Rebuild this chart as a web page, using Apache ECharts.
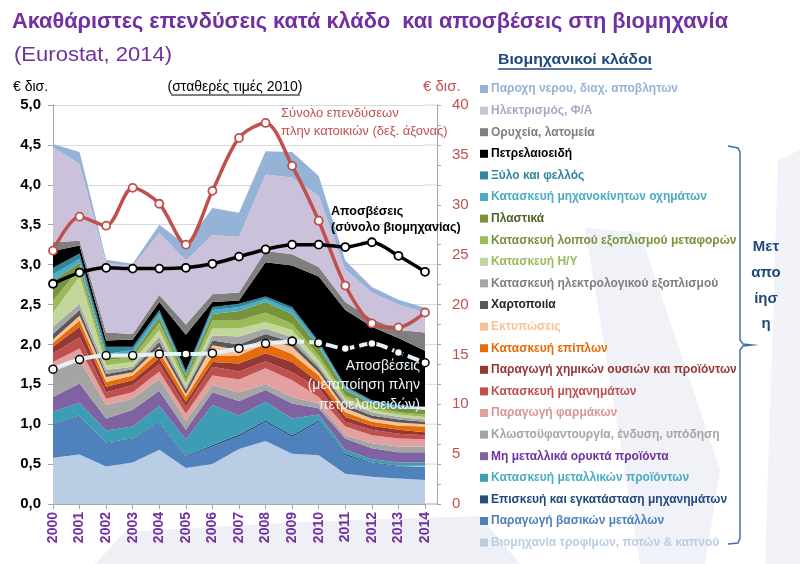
<!DOCTYPE html>
<html><head><meta charset="utf-8">
<script src="https://cdn.jsdelivr.net/npm/echarts@6/dist/echarts.min.js"></script>
<style>html,body{margin:0;padding:0;background:#fff}#c{width:800px;height:564px}</style>
</head><body><div id="c"></div>
<script>
const years = ['2000','2001','2002','2003','2004','2005','2006','2007','2008','2009','2010','2011','2012','2013','2014'];
// stacked layers (€ bn, left axis), bottom to top
const food          = [0.58,0.62,0.47,0.52,0.68,0.45,0.50,0.69,0.79,0.63,0.61,0.38,0.34,0.32,0.30];
const basicMetals   = [0.42,0.48,0.29,0.29,0.33,0.14,0.22,0.16,0.24,0.21,0.42,0.23,0.17,0.15,0.17];
const repair        = [0.01,0.01,0.01,0.01,0.01,0.01,0.02,0.02,0.02,0.02,0.02,0.02,0.01,0.01,0.01];
const metalProducts = [0.15,0.16,0.15,0.15,0.21,0.21,0.50,0.24,0.23,0.21,0.07,0.05,0.04,0.04,0.04];
const nonMetallic   = [0.18,0.24,0.15,0.21,0.19,0.12,0.16,0.18,0.15,0.19,0.08,0.14,0.14,0.13,0.13];
const textiles      = [0.31,0.29,0.17,0.14,0.15,0.12,0.09,0.11,0.07,0.08,0.06,0.04,0.06,0.07,0.07];
const pharma        = [0.13,0.15,0.08,0.08,0.09,0.08,0.12,0.16,0.20,0.21,0.08,0.11,0.10,0.10,0.09];
const machinery     = [0.11,0.14,0.08,0.09,0.09,0.09,0.11,0.10,0.09,0.10,0.11,0.06,0.07,0.06,0.05];
const chemicals     = [0.08,0.13,0.07,0.06,0.08,0.06,0.06,0.10,0.10,0.13,0.08,0.06,0.05,0.05,0.04];
const furniture     = [0.05,0.08,0.06,0.06,0.08,0.06,0.08,0.10,0.12,0.10,0.08,0.06,0.05,0.05,0.07];
const printing      = [0.04,0.06,0.06,0.04,0.06,0.04,0.13,0.07,0.06,0.09,0.04,0.05,0.04,0.04,0.03];
const paper         = [0.07,0.07,0.04,0.04,0.06,0.05,0.06,0.07,0.06,0.06,0.05,0.04,0.04,0.04,0.03];
const electrical    = [0.09,0.08,0.05,0.03,0.07,0.03,0.06,0.10,0.07,0.06,0.04,0.04,0.04,0.03,0.03];
const computers     = [0.18,0.34,0.06,0.06,0.08,0.05,0.09,0.10,0.08,0.09,0.06,0.04,0.03,0.03,0.03];
const otherTransport= [0.15,0.10,0.06,0.06,0.09,0.04,0.10,0.10,0.12,0.08,0.06,0.04,0.04,0.03,0.03];
const plastics      = [0.25,0.07,0.04,0.04,0.07,0.05,0.08,0.12,0.13,0.12,0.11,0.07,0.04,0.05,0.06];
const motorVehicles = [0.08,0.05,0.04,0.05,0.05,0.03,0.05,0.05,0.04,0.05,0.04,0.03,0.02,0.02,0.02];
const wood          = [0.08,0.07,0.09,0.04,0.04,0.04,0.04,0.04,0.03,0.04,0.03,0.02,0.02,0.02,0.02];
const petroleum     = [0.21,0.10,0.08,0.09,0.10,0.45,0.06,0.04,0.43,0.52,0.81,0.95,0.92,0.84,0.70];
const mining        = [0.11,0.06,0.10,0.07,0.09,0.13,0.10,0.10,0.14,0.14,0.12,0.10,0.10,0.10,0.23];
const electricity   = [1.19,0.96,0.87,0.85,0.78,0.80,0.74,0.70,0.96,0.96,0.89,0.41,0.33,0.32,0.25];
const water         = [0.04,0.15,0.04,0.03,0.10,0.20,0.34,0.30,0.29,0.32,0.25,0.11,0.07,0.06,0.06];
// lines
const totalInvestment = [25.4,28.8,27.9,31.7,30.1,26.0,31.4,36.7,38.2,33.9,28.4,21.9,18.1,17.7,19.2]; // right axis
const deprTotal       = [2.76,2.90,2.96,2.95,2.95,2.96,3.01,3.10,3.19,3.25,3.25,3.22,3.28,3.11,2.91];
const deprManuf       = [1.69,1.81,1.86,1.86,1.88,1.88,1.89,1.95,2.01,2.04,2.02,1.95,2.01,1.90,1.77];
const leftTicks = [0,0.5,1,1.5,2,2.5,3,3.5,4,4.5,5];

const layers = [
  ['Βιομηχανία τροφίμων, ποτών & καπνού', food, '#b9cde5', '#b9cde5'],
  ['Παραγωγή βασικών μετάλλων', basicMetals, '#4f81bd', '#4f81bd'],
  ['Επισκευή και εγκατάσταση μηχανημάτων', repair, '#254e7c', '#1f497d'],
  ['Κατασκευή μεταλλικών προϊόντων', metalProducts, '#3d9db5', '#4bacc6'],
  ['Μη μεταλλικά ορυκτά προϊόντα', nonMetallic, '#7f62a1', '#7030a0'],
  ['Κλωστοϋφαντουργία, ένδυση, υπόδηση', textiles, '#a5a5a5', '#a6a6a6'],
  ['Παραγωγή φαρμάκων', pharma, '#e3a09e', '#d99694'],
  ['Κατασκευή μηχανημάτων', machinery, '#c0504d', '#c0504d'],
  ['Παραγωγή χημικών ουσιών και προϊόντων', chemicals, '#953735', '#953735'],
  ['Κατασκευή επίπλων', furniture, '#e46c0a', '#e46c0a'],
  ['Εκτυπώσεις', printing, '#fac090', '#fac090'],
  ['Χαρτοποιία', paper, '#595959', '#262626'],
  ['Κατασκευή ηλεκτρολογικού εξοπλισμού', electrical, '#a6a6a6', '#7f7f7f'],
  ['Κατασκευή Η/Υ', computers, '#c3d69b', '#9bbb59'],
  ['Κατασκευή λοιπού εξοπλισμού μεταφορών', otherTransport, '#9bbb59', '#77933c'],
  ['Πλαστικά', plastics, '#77933c', '#4f6228'],
  ['Κατασκευή μηχανοκίνητων οχημάτων', motorVehicles, '#4bacc6', '#4bacc6'],
  ['Ξύλο και φελλός', wood, '#31859c', '#31859c'],
  ['Πετρελαιοειδή', petroleum, '#000000', '#000000'],
  ['Ορυχεία, λατομεία', mining, '#7f7f7f', '#7f7f7f'],
  ['Ηλεκτρισμός, Φ/Α', electricity, '#ccc1da', '#b3a2c7'],
  ['Παροχη νερου, διαχ. αποβλητων', water, '#95b3d7', '#95b3d7']
];

const FONT = "'Liberation Sans', Arial, sans-serif";
const ctx = document.createElement('canvas').getContext('2d');
function fitScale(text, font, target){ ctx.font = font; return target / ctx.measureText(text).width; }

const series = layers.map(([name, arr, color]) => ({
  name, type:'line', stack:'total', data: arr, symbol:'none',
  lineStyle:{width:0}, areaStyle:{color, opacity:1}, itemStyle:{color}, z:2
}));
series.push({
  name:'Σύνολο επενδύσεων πλην κατοικιών', type:'line', yAxisIndex:1, data:totalInvestment,
  smooth:0.3, symbol:'circle', symbolSize:8, lineStyle:{color:'#c0504d', width:3.5},
  itemStyle:{color:'#ffffff', borderColor:'#c0504d', borderWidth:1.8}, z:5
});
series.push({
  name:'Αποσβέσεις (σύνολο βιομηχανίας)', type:'line', data:deprTotal,
  smooth:0.3, symbol:'circle', symbolSize:8, lineStyle:{color:'#000000', width:3.5},
  itemStyle:{color:'#ffffff', borderColor:'#000000', borderWidth:1.8}, z:5
});
series.push({
  name:'Αποσβέσεις (μεταποίηση πλην πετρελαιοειδών)', type:'line',
  data:deprManuf.map((v,i)=> i>=9 ? v : '-'),
  smooth:0.3, symbol:'circle', symbolSize:8, lineStyle:{color:'#e4f1f6', width:4, type:[12,5]},
  itemStyle:{color:'#ffffff', borderColor:'#000000', borderWidth:1.5}, z:5
});
series.push({
  name:'Αποσβέσεις (μεταποίηση) ', type:'line',
  data:deprManuf.map((v,i)=> i<=9 ? v : '-'),
  smooth:0.3, symbol:'circle', symbolSize:8, lineStyle:{color:'#e4f1f6', width:4},
  itemStyle:{color:'#ffffff', borderColor:'#000000', borderWidth:1.5}, z:6
});

const legendData = layers.slice().reverse().map(([name,,, tc]) => ({name, textStyle:{color:tc}}));

const titleText = 'Ακαθάριστες επενδύσεις κατά κλάδο  και αποσβέσεις στη βιομηχανία';
const titleFont = "bold 22px 'Liberation Sans', Arial, sans-serif";
const subText = '(Eurostat, 2014)';
const subFont = "20px 'Liberation Sans', Arial, sans-serif";
const legTitle = 'Βιομηχανικοί κλάδοι';
const legFont = "bold 15px 'Liberation Sans', Arial, sans-serif";

const chart = echarts.init(document.getElementById('c'), null, {renderer:'canvas'});
const option = {
  backgroundColor:'#ffffff',
  animation:false,
  grid:{left:53, right:375, top:105, bottom:60},
  legend:{
    orient:'vertical', left:475, top:77, itemWidth:8, itemHeight:8, itemGap:7.6,
    icon:'rect', selectedMode:false, data:legendData,
    textStyle:{fontSize:12, fontWeight:'bold', fontFamily:FONT, lineHeight:14, padding:[0,0,0,-2]}
  },
  xAxis:{
    type:'category', data:years, boundaryGap:false,
    axisLine:{lineStyle:{color:'#a6a6a6'}}, axisTick:{length:5, lineStyle:{color:'#a6a6a6'}},
    splitLine:{show:false},
    axisLabel:{rotate:90, margin:8, color:'#7030a0', fontWeight:'bold', fontSize:14, fontFamily:FONT}
  },
  yAxis:[
    {type:'value', min:0, max:5, interval:0.5,
     axisLine:{show:true, lineStyle:{color:'#a6a6a6'}}, axisTick:{show:true, length:5, lineStyle:{color:'#a6a6a6'}},
     splitLine:{lineStyle:{color:'#d9d9d9'}},
     axisLabel:{margin:12, color:'#000', fontWeight:'bold', fontSize:15, fontFamily:FONT,
       formatter:v => { const t = leftTicks.find(x=>Math.abs(x-v)<1e-6); return t===undefined?'':t.toFixed(1).replace('.',','); }}},
    {type:'value', position:'right', offset:12, min:0, max:40, interval:5,
     axisLine:{show:true, lineStyle:{color:'#a6a6a6'}}, axisTick:{show:false}, splitLine:{show:false},
     axisLabel:{margin:15, color:'#c0504d', fontSize:15, fontFamily:FONT}},
    {type:'value', position:'right', offset:12, min:0, max:40, interval:2,
     axisLine:{show:false}, axisTick:{show:true, length:4, lineStyle:{color:'#a6a6a6'}}, splitLine:{show:false},
     axisLabel:{show:false}}
  ],
  series
};
chart.setOption(option);

// extend gridlines / x axis line to the offset right axis
const ext = leftTicks.map(v => {
  const y = chart.convertToPixel({yAxisIndex:0}, v);
  return {type:'line', z:1, shape:{x1:425, y1:y, x2:437, y2:y}, style:{stroke: v===0 ? '#a6a6a6' : '#d9d9d9', lineWidth:1}};
});

const T = (x,y,text,fill,font,align,extra) => Object.assign({type:'text', z:100, x, y,
  style:{text, fill, font, textAlign:align||'left', textVerticalAlign:'middle'}}, extra||{});

chart.setOption({graphic:[
  {type:'polygon', z:-10, shape:{points:[[95,564],[125,532],[300,522],[480,516],[520,564]]}, style:{fill:'#eef0f6'}},
  {type:'polygon', z:-10, shape:{points:[[585,228],[640,232],[720,470],[705,564],[640,564]]}, style:{fill:'#f1f2f7'}},
  {type:'polygon', z:-10, shape:{points:[[778,160],[800,150],[800,564],[765,564]]}, style:{fill:'#f2f3f8'}},
  ...ext,
  T(12,22,titleText,'#7030a0',titleFont,'left',{scaleX:fitScale(titleText,titleFont,716)}),
  T(14,55,subText,'#7030a0',subFont,'left',{scaleX:fitScale(subText,subFont,158)}),
  T(13,87,'€ δισ.','#000',"14px "+FONT),
  T(235,87,'(σταθερές τιμές 2010)','#000',"14px "+FONT,'center'),
  {type:'line', z:100, shape:{x1:171, y1:95, x2:300, y2:95}, style:{stroke:'#000', lineWidth:1}},
  T(423,87,'€ δισ.','#c0504d',"15px "+FONT),
  T(498,60,legTitle,'#1f497d',legFont,'left',{scaleX:fitScale(legTitle,legFont,154)}),
  {type:'line', z:100, shape:{x1:498, y1:69, x2:652, y2:69}, style:{stroke:'#1f497d', lineWidth:1.5}},
  T(281,113,'Σύνολο επενδύσεων','#c0504d',"13px "+FONT),
  T(281,131,'πλην κατοικιών (δεξ. άξονας)','#c0504d',"13px "+FONT),
  T(331,212,'Αποσβέσεις','#000',"bold 12.5px "+FONT),
  T(331,228,'(σύνολο βιομηχανίας)','#000',"bold 12.5px "+FONT),
  T(420,366,'Αποσβέσεις','#eef4f8',"14px "+FONT,'right'),
  T(420,385,'(μεταποίηση πλην','#eef4f8',"14px "+FONT,'right'),
  T(420,405,'πετρελαιοειδών)','#eef4f8',"14px "+FONT,'right'),
  {type:'polyline', z:100, shape:{points:[[728,146],[738,148],[740,152],[740,340],[743,344],[752,345],[743,346],[740,350],[740,538],[738,543],[728,544]]}, style:{stroke:'#3f6fae', lineWidth:1.5, fill:null}},
  T(766,247,'Μετ','#1f497d',"bold 15px "+FONT,'center'),
  T(766,273,'απο','#1f497d',"bold 15px "+FONT,'center'),
  T(766,299,'ίησ','#1f497d',"bold 15px "+FONT,'center'),
  T(766,324,'η','#1f497d',"bold 15px "+FONT,'center')
]});
</script></body></html>
